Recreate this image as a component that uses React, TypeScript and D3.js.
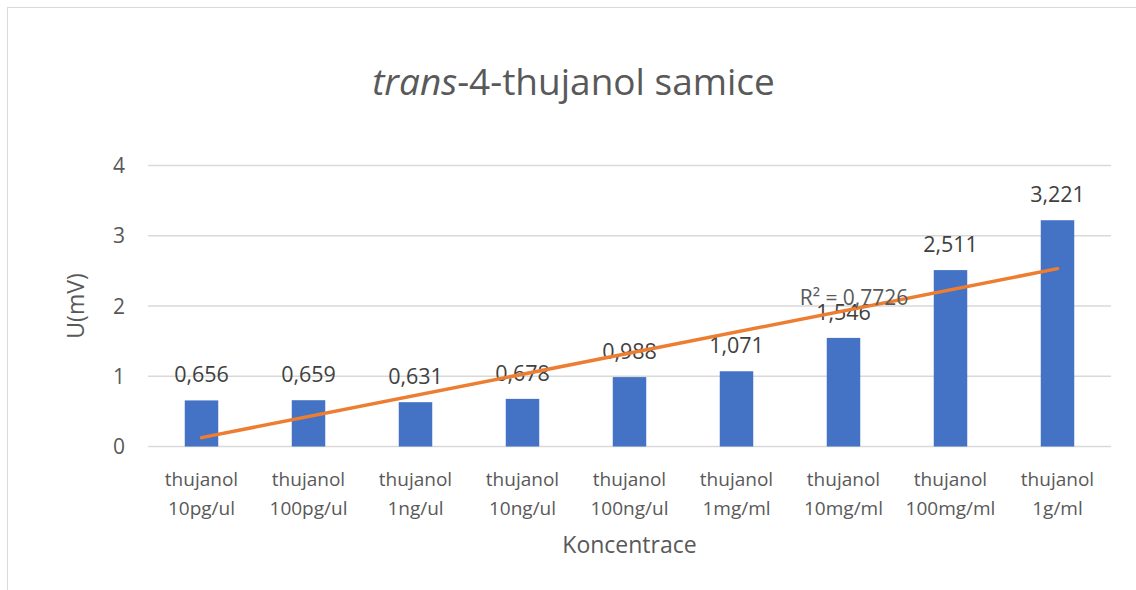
import React from "react";
import * as d3 from "d3";

const categories: string[][] = [
  ["thujanol", "10pg/ul"],
  ["thujanol", "100pg/ul"],
  ["thujanol", "1ng/ul"],
  ["thujanol", "10ng/ul"],
  ["thujanol", "100ng/ul"],
  ["thujanol", "1mg/ml"],
  ["thujanol", "10mg/ml"],
  ["thujanol", "100mg/ml"],
  ["thujanol", "1g/ml"],
];
const values: number[] = [0.656, 0.659, 0.631, 0.678, 0.988, 1.071, 1.546, 2.511, 3.221];
const labels: string[] = ["0,656", "0,659", "0,631", "0,678", "0,988", "1,071", "1,546", "2,511", "3,221"];
const yTicks: number[] = [0, 1, 2, 3, 4];
const r2Label = "R² = 0,7726";

const FONT = "'Open Sans', 'Noto Sans', sans-serif";

export default function App() {
  const W = 1136, H = 590;
  const left = 148, right = 1111, top = 165.5, bottom = 446.5;
  const idx = categories.map((_, i) => String(i));
  const x = d3.scaleBand().domain(idx).range([left, right]).paddingInner(0.687).paddingOuter(0.3435);
  const y = d3.scaleLinear().domain([0, 4]).range([bottom, top]);

  // linear trendline (least squares over category index 1..n)
  const n = values.length;
  const xs = values.map((_, i) => i + 1);
  const mx = d3.mean(xs) as number;
  const my = d3.mean(values) as number;
  const sxy = d3.sum(xs.map((xi, i) => (xi - mx) * (values[i] - my)));
  const sxx = d3.sum(xs.map((xi) => (xi - mx) ** 2));
  const slope = sxy / sxx;
  const intercept = my - slope * mx;
  const cx = (i: number) => (x(String(i)) as number) + x.bandwidth() / 2;
  const line = d3.line<number>().x((i) => cx(i)).y((i) => y(intercept + slope * (i + 1)));
  const trendPath = line([0, n - 1]) as string;

  return (
    <svg width={W} height={H} style={{ position: "absolute", left: 0, top: 0, background: "#fff" }} fontFamily={FONT}>
      <rect x={7.5} y={7.5} width={W + 10} height={H + 10} fill="#fff" stroke="#D9D9D9" strokeWidth={1} />
      <text x={573.5} y={95} textAnchor="middle" fontSize={37} fill="#595959">
        <tspan fontStyle="italic">trans</tspan>-4-thujanol samice
      </text>
      {yTicks.map((t) => (
        <g key={t}>
          <line x1={left} x2={right} y1={y(t)} y2={y(t)} stroke="#D9D9D9" strokeWidth={1.3} />
          <text x={125} y={y(t)} dy="0.36em" textAnchor="end" fontSize={21} fill="#595959">{t}</text>
        </g>
      ))}
      {values.map((v, i) => (
        <g key={i}>
          <rect x={x(String(i))} y={y(v)} width={x.bandwidth()} height={y(0) - y(v)} fill="#4472C4" />
          <text x={cx(i)} y={y(v) - 18} textAnchor="middle" fontSize={21.5} fill="#404040">{labels[i]}</text>
          <text x={cx(i)} y={486} textAnchor="middle" fontSize={19} fill="#595959">
            <tspan x={cx(i)}>{categories[i][0]}</tspan>
            <tspan x={cx(i)} dy={28.5}>{categories[i][1]}</tspan>
          </text>
        </g>
      ))}
      <path d={trendPath} stroke="#ED7D31" strokeWidth={3.5} strokeLinecap="round" fill="none" />
      <text x={854} y={305} textAnchor="middle" fontSize={21} fill="#595959">{r2Label}</text>
      <text x={629.5} y={553} textAnchor="middle" fontSize={23} fill="#595959">Koncentrace</text>
      <text transform={`translate(76,${(top + bottom) / 2}) rotate(-90)`} textAnchor="middle" dy="0.36em" fontSize={23} fill="#595959">U(mV)</text>
    </svg>
  );
}
